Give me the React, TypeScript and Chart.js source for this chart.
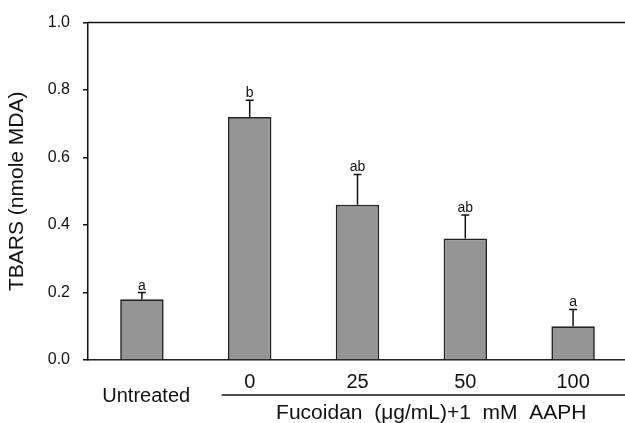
import React, { useEffect, useRef } from "react";
import { Chart, registerables } from "chart.js";

Chart.register(...registerables);

const categories = ["Untreated", "0", "25", "50", "100"];
const tickLabels = ["", "0", "25", "50", "100"];
const means = [0.18, 0.72, 0.46, 0.36, 0.1];
const errors = [0.02, 0.05, 0.09, 0.07, 0.05];
const letters = ["a", "b", "ab", "ab", "a"];
const yTicks = [0, 0.2, 0.4, 0.6, 0.8, 1.0];
const yTitle = "TBARS (nmole MDA)";
const groupTitle = "Fucoidan  (\u03bcg/mL)+1  mM  AAPH";
const firstLabel = "Untreated";

const FONT = "Arial, 'Liberation Sans', sans-serif";

const annotPlugin = {
  id: "annot",
  afterDatasetsDraw(chart: any) {
    const { ctx, chartArea, scales } = chart;
    const x = scales.x;
    const y = scales.y;
    ctx.save();
    // top frame line
    ctx.strokeStyle = "#111";
    ctx.lineWidth = 1.5;
    ctx.beginPath();
    ctx.moveTo(chartArea.left, chartArea.top);
    ctx.lineTo(chartArea.right, chartArea.top);
    ctx.stroke();
    // error bars and letters
    const spacing = x.getPixelForValue(1) - x.getPixelForValue(0);
    means.forEach((m, i) => {
      const cx = x.getPixelForValue(i);
      const y0 = y.getPixelForValue(m);
      const y1 = y.getPixelForValue(m + errors[i]);
      ctx.strokeStyle = "#111";
      ctx.lineWidth = 1.5;
      ctx.beginPath();
      ctx.moveTo(cx, y0);
      ctx.lineTo(cx, y1);
      ctx.moveTo(cx - 4, y1);
      ctx.lineTo(cx + 4, y1);
      ctx.stroke();
      ctx.fillStyle = "#111";
      ctx.font = `14px ${FONT}`;
      ctx.textAlign = "center";
      ctx.textBaseline = "alphabetic";
      ctx.fillText(letters[i], cx, y1 - 3);
    });
    // "Untreated" label
    ctx.fillStyle = "#111";
    ctx.font = `20px ${FONT}`;
    ctx.textAlign = "center";
    ctx.textBaseline = "middle";
    ctx.fillText(firstLabel, x.getPixelForValue(0) + 0.04 * spacing, chartArea.bottom + 36);
    // group line
    const lineStart = x.getPixelForValue(1) - 0.26 * spacing;
    ctx.strokeStyle = "#111";
    ctx.lineWidth = 1.5;
    ctx.beginPath();
    ctx.moveTo(lineStart, chartArea.bottom + 35);
    ctx.lineTo(chart.width, chartArea.bottom + 35);
    ctx.stroke();
    // group title
    ctx.font = `21px ${FONT}`;
    ctx.textAlign = "left";
    ctx.textBaseline = "middle";
    ctx.fillText(groupTitle, x.getPixelForValue(1) + 0.245 * spacing, chartArea.bottom + 53);
    ctx.restore();
  },
};

export default function App() {
  const ref = useRef<HTMLCanvasElement | null>(null);
  useEffect(() => {
    if (!ref.current) return;
    const chart = new Chart(ref.current, {
      type: "bar",
      data: {
        labels: categories,
        datasets: [
          {
            data: means,
            backgroundColor: "#959595",
            borderColor: "#222",
            borderWidth: 1.7,
            barPercentage: 1,
            categoryPercentage: 0.403,
          },
        ],
      },
      options: {
        responsive: false,
        animation: false,
        layout: { padding: { left: 0, right: 13, top: 19, bottom: 0 } },
        plugins: { legend: { display: false }, tooltip: { enabled: false } },
        scales: {
          x: {
            afterFit: (s: any) => {
              s.height = 63;
            },
            grid: { display: false, drawTicks: false },
            border: { display: true, color: "#222", width: 1.5 },
            ticks: {
              color: "#111",
              font: { family: FONT, size: 20 },
              padding: 10,
              callback: (_v: any, i: number) => tickLabels[i],
              maxRotation: 0,
              autoSkip: false,
            },
          },
          y: {
            min: 0,
            max: 1,
            afterFit: (s: any) => {
              s.width = 88;
            },
            afterBuildTicks: (s: any) => {
              s.ticks = yTicks.map((v) => ({ value: v }));
            },
            grid: { drawOnChartArea: false, drawTicks: true, tickLength: 5, color: "#111", lineWidth: 1.5 },
            border: { display: true, color: "#111", width: 1.5 },
            ticks: {
              color: "#111",
              font: { family: FONT, size: 16 },
              padding: 13,
              callback: (v: any) => Number(v).toFixed(1),
            },
            title: {
              display: true,
              text: yTitle,
              color: "#111",
              font: { family: FONT, size: 21 },
              padding: { top: 5, bottom: 0 },
            },
          },
        },
      },
      plugins: [annotPlugin],
    });
    return () => chart.destroy();
  }, []);
  return (
    <div style={{ position: "absolute", left: 0, top: 0, width: 625, height: 423, overflow: "hidden", background: "#fff" }}>
      <canvas ref={ref} width={640} height={423} style={{ width: 640, height: 423, display: "block" }} />
    </div>
  );
}
